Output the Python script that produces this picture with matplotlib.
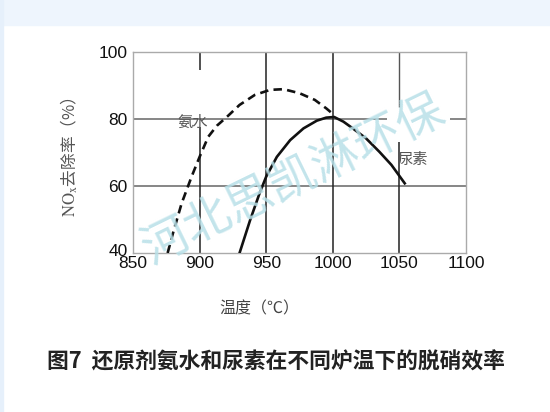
import matplotlib
matplotlib.use("Agg")
import matplotlib.pyplot as plt
from matplotlib.patches import Rectangle
from matplotlib.transforms import ScaledTranslation

plt.rcParams['font.family'] = ['Noto Sans CJK SC', 'DejaVu Sans']
plt.rcParams['mathtext.fontset'] = 'stix'

# ammonia water (dashed) and urea (solid), NOx removal (%) vs furnace temperature
ammonia_t = [876, 880, 886.5, 894, 900, 906.5, 913, 921.5, 930, 941.5, 953, 963, 975, 986.5, 995, 1001]
ammonia_eff = [40, 45.9, 54.8, 62.8, 68.7, 74.7, 78.0, 81.0, 84.2, 87.2, 88.7, 88.9, 87.7, 85.7, 83.2, 81.2]
urea_t = [930, 938, 945, 950, 958, 968, 978, 988, 995, 1001, 1008, 1015, 1025, 1035, 1044, 1054]
urea_eff = [40, 49.9, 57.8, 62.8, 68.7, 73.7, 77.2, 79.5, 80.4, 80.6, 79.2, 77.2, 74.2, 70.2, 66.3, 60.8]

x_ticks = [850, 900, 950, 1000, 1050, 1100]
y_ticks = [40, 60, 80, 100]

fig = plt.figure(figsize=(5.5, 4.12), dpi=100)
fig.patches.append(Rectangle((0, 1 - 25 / 412), 1, 25 / 412, transform=fig.transFigure,
                             color='#eef5fd', zorder=0))
fig.patches.append(Rectangle((0, 0), 2.5 / 550, 1, transform=fig.transFigure,
                             color='#e6f0fb', zorder=0))

ax = fig.add_axes([133 / 550, 1 - 253 / 412, 333 / 550, 201 / 412])
ax.set_xlim(850, 1100)
ax.set_ylim(40, 100)

# grid lines (the original has a few breaks in them)
ax.hlines(60, 850, 1100, color='#666666', lw=1.1, zorder=1)
ax.hlines(80, 850, 1040.5, color='#666666', lw=1.1, zorder=1)
ax.hlines(80, 1088, 1100, color='#666666', lw=1.1, zorder=1)
ax.vlines(900, 40, 77.5, color='#222222', lw=1.1, zorder=1)
ax.vlines(900, 94.6, 100, color='#222222', lw=1.1, zorder=1)
ax.vlines(950, 40, 100, color='#222222', lw=1.1, zorder=1)
ax.vlines(1000, 40, 100, color='#222222', lw=1.1, zorder=1)
ax.vlines(1050, 40, 73, color='#222222', lw=1.1, zorder=1)
ax.vlines(1050, 83.6, 100, color='#555555', lw=1.0, zorder=1)

ax.plot(ammonia_t, ammonia_eff, color='#111111', lw=1.9, ls=(0, (3.2, 2.0)), zorder=3)
ax.plot(urea_t, urea_eff, color='#111111', lw=1.9, zorder=3)

ax.text(895, 79, '氨水', fontsize=11, color='#555555', ha='center', va='center', zorder=4)
ax.text(1060, 67.8, '尿素', fontsize=11, color='#555555', ha='center', va='center', zorder=4)

ax.set_xticks(x_ticks)
ax.set_yticks(y_ticks)
ax.tick_params(length=0, labelsize=12.5, labelcolor='#111111')
ax.tick_params(axis='x', pad=2.5)
ax.tick_params(axis='y', pad=4)
for lab in ax.get_xticklabels() + ax.get_yticklabels():
    lab.set_family(['Liberation Sans', 'DejaVu Sans'])
# the lowest y label sits a little higher in the original
ylab0 = ax.get_yticklabels()[0]
ylab0.set_transform(ylab0.get_transform() + ScaledTranslation(0, 3 / 100, fig.dpi_scale_trans))
for s in ax.spines.values():
    s.set_color('#aaaaaa')
    s.set_linewidth(1.0)

ax.set_ylabel(r'$\mathrm{NO_x}$去除率（%）', fontsize=12, color='#555555')
ax.yaxis.set_label_coords(-0.16, 0.48)
ax.set_xlabel('温度（℃）', fontsize=11.5, color='#444444')
ax.xaxis.set_label_coords(0.38, -0.234)

fig.text(47 / 550, 1 - 362 / 412, '图7  还原剂氨水和尿素在不同炉温下的脱硝效率',
         fontsize=15.7, fontweight='bold', color='#222222', ha='left', va='center')

# watermark
fig.text(294 / 550, 1 - 180 / 412, '河北思凯淋环保', fontsize=34, color='#b8e0e8',
         alpha=0.85, rotation=26, ha='center', va='center', fontweight='light', zorder=10)

fig.savefig('out.png', dpi=100)
